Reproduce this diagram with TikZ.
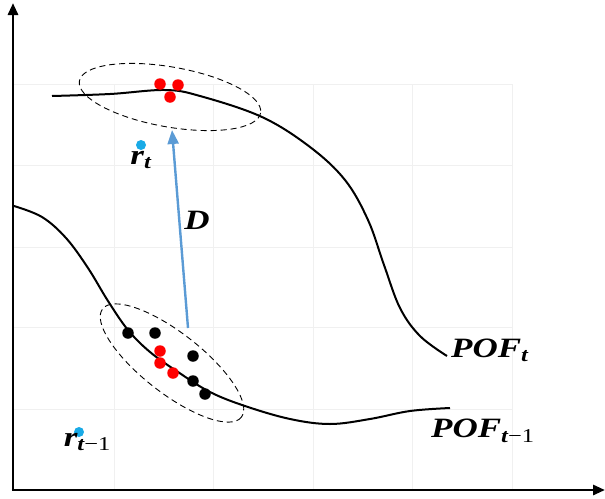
\documentclass[tikz,border=0pt]{standalone}
\usepackage{fontspec}
\usepackage{graphicx}
\setmainfont{Liberation Serif}
\usetikzlibrary{arrows.meta, positioning}
\definecolor{dirblue}{RGB}{91,155,213}
\definecolor{refcyan}{RGB}{25,170,230}
\newcommand{\widetxt}[1]{\scalebox{1.25}[1]{#1}}

\begin{document}
\begin{tikzpicture}[x=1pt, y=-1pt,
    dot/.style={circle, inner sep=0pt, minimum size=11.5pt},
    rdot/.style={dot, fill=red},
    bdot/.style={dot, fill=black},
    cdot/.style={dot, fill=refcyan, minimum size=10pt},
    lbl/.style={font=\fontsize{28}{30}\selectfont\bfseries\itshape, inner sep=1pt},
    front/.style={line width=2pt, black},
    axis/.style={line width=2.8pt, -{Triangle[length=12pt,width=10pt]}},
    grd/.style={gray!12, line width=0.6pt},
    zone/.style={line width=0.9pt, dash pattern=on 6pt off 4pt},
    dir/.style={line width=2.4pt, dirblue, -{Triangle[length=14pt,width=11pt]}},
]
\useasboundingbox (0,0) rectangle (605,498);
% grid
\foreach \gx in {114,213,313,412,512}
  \draw[grd] (\gx,84) -- (\gx,490);
\foreach \gy in {84,165,247,327,409}
  \draw[grd] (14,\gy) -- (512,\gy);
% axes
\coordinate (o) at (13,490);
\coordinate (ytop) at (13,3);
\coordinate (xend) at (605,490);
\draw[axis] (o) -- (ytop);
\draw[axis] ([xshift=-1.4pt]o) -- (xend);
% fronts
\draw[front] plot[smooth, tension=0.6] coordinates {(52,96) (110,94) (165,90) (200,96)
  (262,117) (310,147) (345,180) (368,220) (384,265) (400,308) (420,336) (447,356)};
\draw[front] plot[smooth, tension=0.6] coordinates {(14,206) (42,217) (66,238)
  (88,268) (108,301) (128,330) (150,352) (178,372) (210,392) (245,406) (290,419)
  (330,424) (370,419) (410,411) (450,408)};
% neighbourhoods
\draw[zone] (170,97) ellipse [x radius=92, y radius=30, rotate=-10];
\draw[zone] (172,363) ellipse [x radius=88, y radius=30, rotate=-38];
% solutions at t
\node[rdot] (u1) at (160,84) {};
\node[rdot] (u2) at (178,85) {};
\node[rdot] (u3) at (170,97) {};
% solutions at t-1
\node[bdot] (b1) at (128,333) {};
\node[bdot] (b2) at (155,333) {};
\node[bdot] (b3) at (193,356) {};
\node[bdot] (b4) at (193,381) {};
\node[bdot] (b5) at (205,394) {};
\node[rdot] (l1) at (160,351) {};
\node[rdot] (l2) at (160,363) {};
\node[rdot] (l3) at (173,373) {};
% reference points
\node[cdot] (rt) at (141,145) {};
\node[lbl, below=0pt of rt] (rtl) {\widetxt{r\textsubscript{t}}};
\node[cdot] (rp) at (79,432) {};
\node[lbl, below right=-4pt and -20pt of rp] (rpl) {\widetxt{r\textsubscript{t\mdseries\upshape −1}}};
% direction
\coordinate (ds) at (188,328);
\coordinate (de) at (172,130);
\draw[dir] (ds) -- (de);
\node[lbl] (dl) at (197,220) {\widetxt{D}};
% labels
\node[lbl, anchor=west] (pt) at (450,350) {\widetxt{POF\textsubscript{t}}};
\node[lbl, anchor=west] (pp) at (430,431) {\widetxt{POF\textsubscript{t\mdseries\upshape −1}}};
\end{tikzpicture}
\end{document}
